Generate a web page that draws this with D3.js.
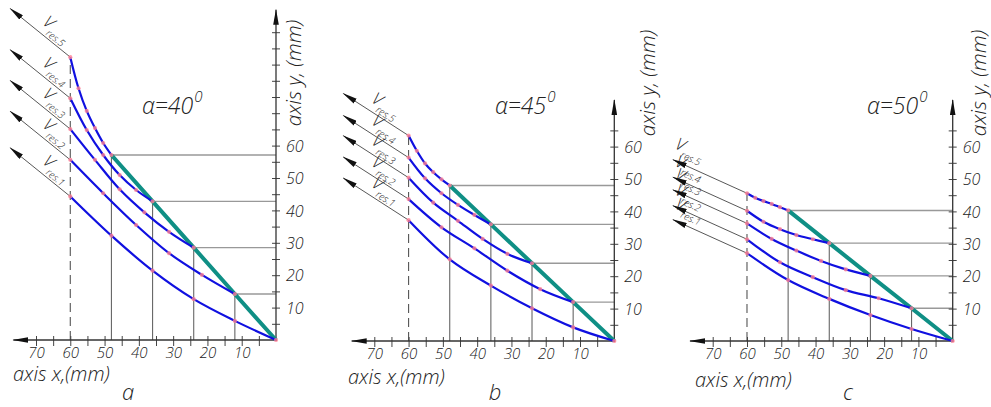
<!DOCTYPE html>
<html>
<head>
<meta charset="utf-8">
<script src="https://cdn.jsdelivr.net/npm/d3@7"></script>
<style>
body { margin: 0; background: #fff; }
text { font-family: "Open Sans", "DejaVu Sans", sans-serif; font-style: italic; font-weight: 300; fill: #222; }
</style>
</head>
<body>
<div id="chart"></div>
<script>
//three panels, alpha angle for each
var panelNames = ["a", "b", "c"];
var alphas = [40, 45, 50];

//x positions (mm) of the measured points, one row per V_res curve (1..5)
var xRes = [
	[60, 48, 36, 24, 12, 0],
	[60, 50.4, 40.8, 31.2, 21.6, 12],
	[60, 52.8, 45.6, 38.4, 31.2, 24],
	[60, 55.2, 50.4, 45.6, 40.8, 36],
	[60, 57.6, 55.2, 52.8, 50.4, 48]
];

//y values (mm)
var yResA = [
	[44.3, 32.2, 21.4, 12.6, 5.9, 0],
	[55.6, 45.3, 35.5, 26.8, 20.1, 14.2],
	[65.1, 55.6, 46.5, 39.4, 33.4, 28.5],
	[74.6, 64.8, 57.1, 50.9, 46.3, 42.8],
	[87.3, 77.7, 70.7, 65.4, 60.8, 57.1]
];
var yResB = [
	[37.3, 25.2, 17.1, 10.1, 4.2, 0],
	[43.8, 35.1, 28.6, 21.7, 16.0, 12.0],
	[50.4, 42.7, 37.1, 31.5, 26.9, 24.0],
	[56.6, 50.2, 45.6, 42.0, 38.9, 36.0],
	[63.4, 58.7, 54.8, 52.1, 49.9, 48.0]
];
var yResC = [
	[27.1, 18.8, 13.0, 8.0, 3.7, 0],
	[31.4, 24.3, 19.7, 15.7, 13.2, 10.1],
	[36.3, 31.5, 27.9, 24.7, 22.1, 20.1],
	[40.2, 36.8, 34.5, 32.7, 31.4, 30.2],
	[45.6, 44.2, 43.2, 42.3, 41.3, 40.3]
];
var yRes = [yResA, yResB, yResC];

//tick labels
var xTickLabels = [10, 20, 30, 40, 50, 60, 70];
var yTickLabels = [10, 20, 30, 40, 50, 60];
var yTickMax = [95, 65, 65];
var yAxisTop = [101.9, 74.4, 74.4];
var xAxisEnd = 76.6;

//layout of each panel (pixels)
var origins = [[276, 340], [614.3, 341], [952.7, 341]];
var arrowVec = [[-60, -48.5], [-65.2, -42], [-74, -33.5]];
var labelPos = [[34, 8], [27, 8], [-4, 11]];    //along arrow from tip, above line
var yLabelPos = [[293, 73], [647, 83], [978, 83]];
var xLabelPos = [[13, 381], [348, 384], [695, 387]];
var letterPos = [[128, 400], [495, 400], [848, 400]];
var alphaPos = [[142, 114], [495, 114], [867, 114]];

var svg = d3.select("#chart").append("svg")
	.attr("width", 991)
	.attr("height", 407);

var defs = svg.append("defs");
defs.append("marker")
	.attr("id", "axisArrow")
	.attr("markerUnits", "userSpaceOnUse")
	.attr("viewBox", "0 -3 16 6")
	.attr("refX", 15).attr("refY", 0)
	.attr("markerWidth", 16).attr("markerHeight", 6)
	.attr("orient", "auto")
	.append("path").attr("d", "M0,-2.8L16,0L0,2.8Z").attr("fill", "#111");
defs.append("marker")
	.attr("id", "vArrow")
	.attr("markerUnits", "userSpaceOnUse")
	.attr("viewBox", "0 -3 15 6")
	.attr("refX", 14).attr("refY", 0)
	.attr("markerWidth", 15).attr("markerHeight", 6)
	.attr("orient", "auto")
	.append("path").attr("d", "M0,-2.8L15,0L0,2.8Z").attr("fill", "#111");

var line = d3.line()
	.x(function(d){ return d.px; })
	.y(function(d){ return d.py; })
	.curve(d3.curveCatmullRom.alpha(0.5));

function drawPanel(p){
	var ox = origins[p][0], oy = origins[p][1];
	var x = d3.scaleLinear().domain([0, 70]).range([ox, ox - 240]);
	var y = d3.scaleLinear().domain([0, 60]).range([oy, oy - 194.4]);
	var g = svg.append("g");

	//points of each curve
	var curves = yRes[p].map(function(row, k){
		return row.map(function(v, i){
			return {x: xRes[k][i], y: v, px: x(xRes[k][i]), py: y(v)};
		});
	});
	var ends = curves.map(function(c){ return c[c.length - 1]; });
	var starts = curves.map(function(c){ return c[0]; });

	//guide lines from the teal line to the axes
	var guides = ends.filter(function(d){ return d.x > 0; });
	g.selectAll(".vg").data(guides).enter().append("line")
		.attr("x1", function(d){ return x(d.x); }).attr("x2", function(d){ return x(d.x); })
		.attr("y1", y(0)).attr("y2", function(d){ return y(d.y); })
		.attr("stroke", "#666").attr("stroke-width", 1.1);
	g.selectAll(".hg").data(guides).enter().append("line")
		.attr("x1", function(d){ return x(d.x); }).attr("x2", x(0))
		.attr("y1", function(d){ return y(d.y); }).attr("y2", function(d){ return y(d.y); })
		.attr("stroke", "#999").attr("stroke-width", 1.4);

	//dashed line at x = 60
	g.append("line")
		.attr("x1", x(60)).attr("x2", x(60))
		.attr("y1", y(0)).attr("y2", y(d3.max(starts, function(d){ return d.y; })))
		.attr("stroke", "#555").attr("stroke-width", 1.1)
		.attr("stroke-dasharray", "9,5");

	//axes
	var xAxis = d3.axisBottom(x)
		.tickValues(d3.range(5, 75, 5))
		.tickSize(5)
		.tickFormat(function(d){ return xTickLabels.indexOf(d) >= 0 ? d : ""; });
	var xg = g.append("g").attr("transform", "translate(0," + oy + ")").call(xAxis);
	xg.select(".domain").remove();
	xg.selectAll(".tick line").attr("y1", -4).attr("y2", 6).attr("stroke", "#444");
	xg.selectAll(".tick text").attr("y", 7).attr("font-size", 15)
		.attr("fill", "#222").attr("font-family", null);

	var yAxis = d3.axisRight(y)
		.tickValues(d3.range(5, yTickMax[p] + 1, 5))
		.tickSize(4)
		.tickFormat(function(d){ return yTickLabels.indexOf(d) >= 0 ? d : ""; });
	var yg = g.append("g").attr("transform", "translate(" + ox + ",0)").call(yAxis);
	yg.select(".domain").remove();
	yg.selectAll(".tick line").attr("x1", -4).attr("x2", 4).attr("stroke", "#444");
	yg.selectAll(".tick text").attr("x", 10).attr("dy", "0.36em").attr("font-size", 16)
		.attr("fill", "#222").attr("font-family", null);

	g.append("line")
		.attr("x1", x(0) + 1).attr("y1", y(0))
		.attr("x2", x(xAxisEnd)).attr("y2", y(0))
		.attr("stroke", "#333").attr("stroke-width", 1.3)
		.attr("marker-end", "url(#axisArrow)");
	g.append("line")
		.attr("x1", x(0)).attr("y1", y(0) + 1)
		.attr("x2", x(0)).attr("y2", y(yAxisTop[p]))
		.attr("stroke", "#333").attr("stroke-width", 1.3)
		.attr("marker-end", "url(#axisArrow)");

	//V_res arrows
	var av = arrowVec[p];
	var alen = Math.sqrt(av[0] * av[0] + av[1] * av[1]);
	var ux = -av[0] / alen, uy = -av[1] / alen;     //direction tip -> curve start
	var ang = Math.atan2(uy, ux) * 180 / Math.PI;
	starts.forEach(function(s, k){
		var tx = s.px + av[0], ty = s.py + av[1];
		g.append("line")
			.attr("x1", s.px).attr("y1", s.py)
			.attr("x2", tx).attr("y2", ty)
			.attr("stroke", "#444").attr("stroke-width", 0.9)
			.attr("marker-end", "url(#vArrow)");
		var lx = tx + ux * labelPos[p][0] + uy * labelPos[p][1];
		var ly = ty + uy * labelPos[p][0] - ux * labelPos[p][1];
		var t = g.append("text")
			.attr("transform", "translate(" + lx + "," + ly + ") rotate(" + ang + ")")
			.attr("font-size", 17).attr("fill", "#444");
		t.append("tspan").text("V");
		t.append("tspan").attr("font-size", 10).attr("dy", 6).attr("dx", 0).text("res." + (k + 1));
	});

	//teal line through the curve ends
	g.append("path")
		.datum(ends.slice().reverse())
		.attr("d", d3.line().x(function(d){ return d.px; }).y(function(d){ return d.py; }))
		.attr("fill", "none")
		.attr("stroke", "#0f8f85")
		.attr("stroke-width", 4);

	//curves
	g.selectAll(".curve").data(curves).enter().append("path")
		.attr("d", line)
		.attr("fill", "none")
		.attr("stroke", "#1010e0")
		.attr("stroke-width", 2.2);

	//measured points
	g.selectAll(".pt").data(d3.merge(curves)).enter().append("circle")
		.attr("cx", function(d){ return d.px; })
		.attr("cy", function(d){ return d.py; })
		.attr("r", 2.1)
		.attr("fill", "#ff7f93")
		.attr("opacity", 0.8);

	//texts
	var at = g.append("text")
		.attr("x", alphaPos[p][0]).attr("y", alphaPos[p][1])
		.attr("font-size", 23).attr("fill", "#222");
	at.append("tspan").text("\u03b1=" + alphas[p]);
	at.append("tspan").attr("font-size", 15).attr("dy", -12).attr("dx", 1).text("0");

	g.append("text")
		.attr("transform", "translate(" + yLabelPos[p][0] + "," + yLabelPos[p][1] + ") rotate(-90)")
		.attr("text-anchor", "middle")
		.attr("dominant-baseline", "central")
		.attr("font-size", 21)
		.text("axis y, (mm)");
	g.append("text")
		.attr("x", xLabelPos[p][0]).attr("y", xLabelPos[p][1])
		.attr("font-size", 20)
		.text("axis x,(mm)");
	g.append("text")
		.attr("x", letterPos[p][0]).attr("y", letterPos[p][1])
		.attr("text-anchor", "middle")
		.attr("font-size", 22)
		.text(panelNames[p]);
}

for (var p = 0; p < 3; p++){
	drawPanel(p);
}
</script>
</body>
</html>
